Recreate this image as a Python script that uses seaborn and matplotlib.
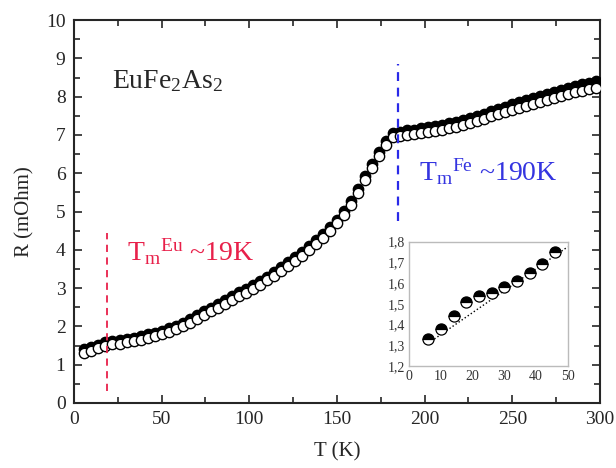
import numpy as np
import pandas as pd
import matplotlib
matplotlib.use('Agg')
import matplotlib.pyplot as plt
from matplotlib.ticker import MultipleLocator, FuncFormatter
import seaborn as sns

# data: T step 4 K, two runs (filled / open)
T = [6, 10, 14, 18, 22, 26, 30, 34, 38, 42, 46, 50, 54, 58, 62, 66, 70, 74,
     78, 82, 86, 90, 94, 98, 102, 106, 110, 114, 118, 122, 126, 130, 134, 138,
     142, 146, 150, 154, 158, 162, 166, 170, 174, 178, 182, 186, 190, 194, 198,
     202, 206, 210, 214, 218, 222, 226, 230, 234, 238, 242, 246, 250, 254, 258,
     262, 266, 270, 274, 278, 282, 286, 290, 294, 298]
R_open = [1.31, 1.37, 1.43, 1.50, 1.53, 1.55, 1.59, 1.62, 1.65, 1.70, 1.75,
          1.80, 1.86, 1.93, 2.00, 2.08, 2.19, 2.30, 2.39, 2.49, 2.59, 2.69,
          2.79, 2.88, 2.98, 3.09, 3.20, 3.32, 3.44, 3.57, 3.71, 3.85, 4.00,
          4.15, 4.31, 4.49, 4.69, 4.92, 5.17, 5.48, 5.83, 6.15, 6.46, 6.73,
          6.95, 6.98, 7.01, 7.03, 7.05, 7.08, 7.11, 7.14, 7.18, 7.22, 7.27,
          7.32, 7.37, 7.43, 7.49, 7.55, 7.61, 7.66, 7.71, 7.76, 7.81, 7.86,
          7.91, 7.96, 8.01, 8.06, 8.11, 8.15, 8.19, 8.23]
R_filled = [1.40, 1.46, 1.52, 1.59, 1.62, 1.64, 1.67, 1.70, 1.74, 1.79, 1.84,
            1.89, 1.95, 2.02, 2.09, 2.18, 2.29, 2.40, 2.49, 2.59, 2.69, 2.79,
            2.89, 2.98, 3.08, 3.19, 3.30, 3.42, 3.54, 3.67, 3.81, 3.95, 4.10,
            4.25, 4.41, 4.59, 4.79, 5.02, 5.27, 5.58, 5.93, 6.25, 6.56, 6.84,
            7.05, 7.09, 7.12, 7.14, 7.17, 7.20, 7.23, 7.26, 7.30, 7.35, 7.40,
            7.45, 7.50, 7.56, 7.62, 7.68, 7.74, 7.80, 7.85, 7.91, 7.96, 8.02,
            8.07, 8.13, 8.18, 8.24, 8.29, 8.33, 8.37, 8.41]

# inset (low-T zoom)
T_ins = [6, 10, 14, 18, 22, 26, 30, 34, 38, 42, 46]
R_ins = [1.33, 1.38, 1.44, 1.51, 1.54, 1.55, 1.58, 1.61, 1.65, 1.69, 1.75]
fit_T = [6, 50]
fit_R = [1.31, 1.775]

T_eu, T_fe = 19, 185

df = pd.DataFrame({'T': T, 'open': R_open, 'filled': R_filled})
ins = pd.DataFrame({'T': T_ins, 'R': R_ins})

sns.set_style('ticks')
plt.rcParams['font.family'] = ['Liberation Serif', 'DejaVu Serif']
plt.rcParams['mathtext.fontset'] = 'custom'
plt.rcParams['mathtext.rm'] = 'Liberation Serif'
plt.rcParams['mathtext.it'] = 'Liberation Serif'

fig = plt.figure(figsize=(6.16, 4.68), dpi=100)
ax = fig.add_axes([0.120, 0.139, 0.854, 0.818])

sns.scatterplot(data=df, x='T', y='filled', ax=ax, color='black', s=55,
                edgecolor='black', linewidth=1, zorder=3)
sns.scatterplot(data=df, x='T', y='open', ax=ax, color='white', s=55,
                edgecolor='black', linewidth=1, zorder=4)

ax.plot([T_eu, T_eu], [0.3, 4.45], ls=(0, (4, 3)), color='#e8204a', lw=1.3, zorder=5)
ax.plot([T_fe, T_fe], [4.75, 8.85], ls=(0, (4, 3)), color='#2a2ae8', lw=1.6, zorder=5)

ax.text(22, 8.4, r'EuFe$_2$As$_2$', fontsize=20, va='center', ha='left')
ax.text(30, 3.95, r'T$_{\mathrm{m}}$$^{\mathrm{Eu}}$ ~19K', fontsize=20,
        color='#e8204a', va='center', ha='left')
ax.text(197, 6.05, r'T$_{\mathrm{m}}$$^{\mathrm{Fe}}$ ~190K', fontsize=20,
        color='#3434e0', va='center', ha='left')

ax.set_xlim(0, 300)
ax.set_ylim(0, 10)
ax.xaxis.set_major_locator(MultipleLocator(50))
ax.xaxis.set_minor_locator(MultipleLocator(25))
ax.yaxis.set_major_locator(MultipleLocator(1))
ax.yaxis.set_minor_locator(MultipleLocator(0.5))
ax.tick_params(which='both', direction='in', top=True, right=True,
               labelsize=14, width=1.2, pad=6)
ax.tick_params(which='major', length=6)
ax.tick_params(which='minor', length=4)
for sp in ax.spines.values():
    sp.set_linewidth(1.5)
ax.set_xlabel('T (K)', fontsize=15, labelpad=10)
ax.set_ylabel('R (mOhm)', fontsize=15, labelpad=8)

# inset
axi = fig.add_axes([0.6645, 0.218, 0.2571, 0.2656])
axi.plot(fit_T, fit_R, ls=':', color='black', lw=1, zorder=2)
axi.plot(ins['T'], ins['R'], ls='none', marker='o', ms=8, fillstyle='top',
         markerfacecolor='black', markerfacecoloralt='white',
         markeredgecolor='black', markeredgewidth=0.9, zorder=3)
axi.set_xlim(0, 50)
axi.set_ylim(1.2, 1.8)
axi.xaxis.set_major_locator(MultipleLocator(10))
axi.yaxis.set_major_locator(MultipleLocator(0.1))
axi.yaxis.set_major_formatter(FuncFormatter(lambda v, p: f'{v:.1f}'.replace('.', ',')))
axi.tick_params(which='both', length=0, labelsize=10, colors='#333333', pad=3)
for sp in axi.spines.values():
    sp.set_color('#bbbbbb')
    sp.set_linewidth(1)
axi.set_xlabel('')
axi.set_ylabel('')

fig.savefig('out.png', dpi=100)
